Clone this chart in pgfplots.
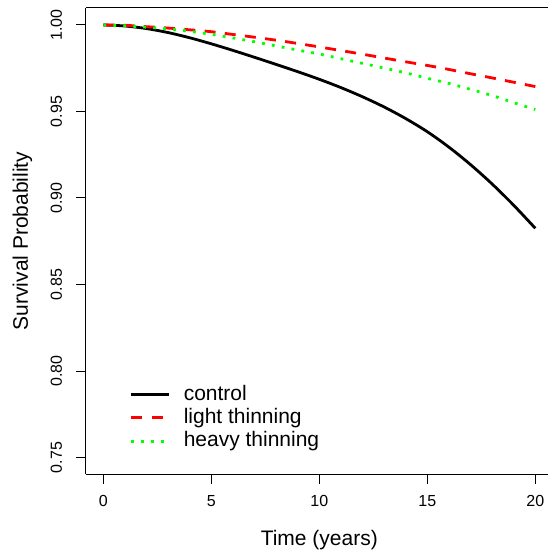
\documentclass[border=0pt]{standalone}
\usepackage{fontspec}
\setmainfont{Liberation Sans}
\usepackage{pgfplots}
\usepackage{pgfplotstable}
\pgfplotsset{compat=1.18}
\definecolor{rred}{RGB}{255,0,0}
\definecolor{rgreen}{RGB}{0,255,0}

% survival curves, one row per year
\pgfplotstableread{
t  control light  heavy
0  1.0000  1.0000 1.0000
1  0.9994  0.9998 0.9995
2  0.9979  0.9990 0.9987
3  0.9956  0.9982 0.9977
4  0.9926  0.9972 0.9963
5  0.9891  0.9961 0.9946
6  0.9853  0.9945 0.9925
7  0.9813  0.9929 0.9903
8  0.9772  0.9912 0.9879
9  0.9730  0.9893 0.9855
10 0.9686  0.9873 0.9832
11 0.9638  0.9852 0.9805
12 0.9585  0.9831 0.9778
13 0.9526  0.9809 0.9751
14 0.9459  0.9787 0.9723
15 0.9383  0.9766 0.9692
16 0.9294  0.9743 0.9662
17 0.9193  0.9718 0.9628
18 0.9081  0.9694 0.9592
19 0.8958  0.9669 0.9551
20 0.8825  0.9644 0.9511
}\surv

\begin{document}
\begin{tikzpicture}
\begin{axis}[
  name=ax,
  scale only axis,
  width=231pt, height=233pt,
  xmin=-0.801, xmax=20.588,
  ymin=0.7405, ymax=1.0098,
  axis x line*=bottom, axis y line*=left,
  axis line style={black, line width=0.5pt, -},
  xtick={0,5,10,15,20},
  ytick={0.75,0.80,0.85,0.90,0.95,1.00},
  tick align=outside,
  major tick length=5pt,
  tick style={black, line width=0.5pt},
  /pgf/number format/assume math mode=true,
  tick label style={font=\fontsize{8}{9.6}\selectfont},
  xticklabel style={anchor=base, inner sep=0pt},
  yticklabel style={rotate=90, anchor=base, inner sep=0pt,
    /pgf/number format/.cd, fixed, fixed zerofill, precision=2},
  xticklabel shift=11.25pt,
  yticklabel shift=7pt,
  label style={font=\fontsize{10.5}{12.6}\selectfont},
  xlabel={Time (years)},
  ylabel={Survival Probability},
  xlabel style={at={([yshift=-35.5pt]axis description cs:0.505,0)}, anchor=base},
  ylabel style={at={([xshift=-29pt]axis description cs:0,0.5)}, anchor=base, rotate=0},
  extra description/.code={\draw[black, line width=0.5pt] (axis description cs:0,1) -- (axis description cs:1,1);},
  legend cell align=left,
  legend image code/.code={\draw[#1] (0pt,0pt) -- (18.65pt,0pt);},
  legend style={at={(axis description cs:0.0952,0.1931)}, anchor=north west,
    draw=none, fill=none, inner sep=0pt, outer sep=0pt, row sep=1.17pt,
    font=\fontsize{10.5}{12.6}\selectfont,
    nodes={inner sep=0pt, text height=8pt, text depth=2.5pt},
    /tikz/every odd column/.append style={column sep=6.85pt}},
]
\addplot[black, line width=1.4pt, smooth] table[x=t, y=control] {\surv};
\addplot[rred, line width=1.4pt, dash pattern=on 5.5pt off 4.65pt, smooth] table[x=t, y=light] {\surv};
\addplot[rgreen, line width=1.4pt, dash pattern=on 1.4pt off 3.6pt, smooth] table[x=t, y=heavy] {\surv};
\legend{control, light thinning, heavy thinning}
\end{axis}
\pgfresetboundingbox
\path[use as bounding box] ([xshift=-43pt, yshift=-38.5pt]ax.south west) rectangle ([yshift=4pt]ax.north east);
\end{tikzpicture}
\end{document}
